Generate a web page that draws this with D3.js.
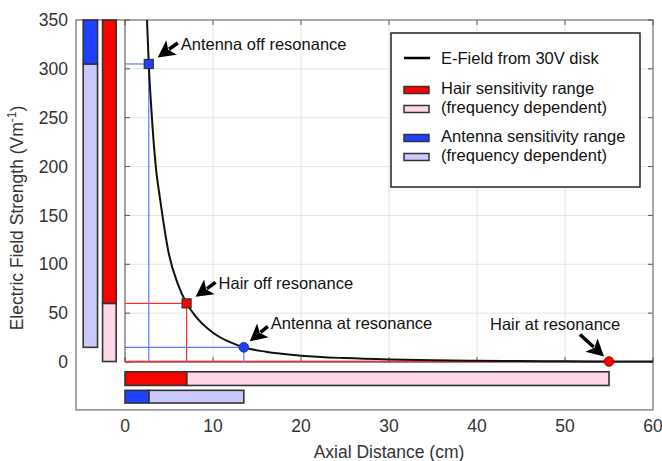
<!DOCTYPE html>
<html><head><meta charset="utf-8">
<script src="https://cdn.jsdelivr.net/npm/d3@7"></script>
<style>body{margin:0;background:#fff} text{font-family:"Liberation Sans",Arial,Helvetica,sans-serif}</style>
</head><body><svg id="c" width="662" height="461"></svg>
<script>
// ---- data ----
const xTicks = [0, 10, 20, 30, 40, 50, 60];
const yTicks = [0, 50, 100, 150, 200, 250, 300, 350];
const curveX = [2.4, 2.5, 2.7, 3, 3.5, 4, 5, 6, 7, 8, 10, 12, 13.5, 16, 20, 25, 30, 35, 40, 45, 50, 55, 60];
const curveY = [365, 350, 305, 258, 200, 166, 110, 80, 60, 47, 30, 20, 15, 10.5, 6.5, 4, 2.6, 1.8, 1.2, 0.9, 0.7, 0.5, 0.4];
const sensors = ["Hair", "Antenna"];
const resonanceDist = [55, 13.5];
const resonanceField = [0.5, 15];
const offDist = [7, 2.7];
const offField = [60, 305];
const resonanceLabels = ["Hair at resonance", "Antenna at resonance"];
const offLabels = ["Hair off resonance", "Antenna off resonance"];
const legendLabels = ["E-Field from 30V disk", "Hair sensitivity range", "(frequency dependent)", "Antenna sensitivity range", "(frequency dependent)"];
const xTitle = "Axial Distance (cm)";

// ---- style ----
const dark = ["#ff0000", "#2040ff"];
const light = ["#ffd5ea", "#c9c9fb"];
const lineCol = ["#ff2a2a", "#5a78ff"];

const svg = d3.select("#c");
const x = d3.scaleLinear().domain([0, 60]).range([125, 653]);
const y = d3.scaleLinear().domain([0, 350]).range([362, 20]);
const xMinOuter = -5.57, yMinOuter = -49;

// outer box
svg.append("rect").attr("x", x(xMinOuter)).attr("y", y(350)).attr("width", x(60) - x(xMinOuter)).attr("height", y(yMinOuter) - y(350))
  .attr("fill", "none").attr("stroke", "#8a8a8a").attr("stroke-width", 1.5);

// grid
const g = svg.append("g");
g.selectAll(".gx").data(xTicks.filter(d => d > 0 && d < 60)).join("line")
  .attr("x1", d => x(d)).attr("x2", d => x(d)).attr("y1", y(0)).attr("y2", y(350)).attr("stroke", "#e4e4e4");
g.selectAll(".gy").data(yTicks.filter(d => d > 0 && d < 350)).join("line")
  .attr("x1", x(0)).attr("x2", x(60)).attr("y1", d => y(d)).attr("y2", d => y(d)).attr("stroke", "#e4e4e4");

// ticks
const tk = 5;
g.selectAll(".t1").data(yTicks).join("line").attr("x1", x(0)).attr("x2", x(0) + tk).attr("y1", d => y(d)).attr("y2", d => y(d)).attr("stroke", "#555");
g.selectAll(".t2").data(yTicks).join("line").attr("x1", x(60)).attr("x2", x(60) - tk).attr("y1", d => y(d)).attr("y2", d => y(d)).attr("stroke", "#555");
g.selectAll(".t3").data(xTicks).join("line").attr("x1", d => x(d)).attr("x2", d => x(d)).attr("y1", y(350)).attr("y2", y(350) + tk).attr("stroke", "#555");
g.selectAll(".t4").data(xTicks).join("line").attr("x1", d => x(d)).attr("x2", d => x(d)).attr("y1", y(0)).attr("y2", y(0) - tk).attr("stroke", "#555");

// inner axis lines
svg.append("line").attr("x1", x(0)).attr("x2", x(0)).attr("y1", y(0)).attr("y2", y(350)).attr("stroke", "#444");
svg.append("line").attr("x1", x(0)).attr("x2", x(60)).attr("y1", y(0)).attr("y2", y(0)).attr("stroke", "#333");

// reference lines
sensors.forEach((s, i) => {
  [[resonanceDist[i], resonanceField[i]], [offDist[i], offField[i]]].forEach(([dx, fy]) => {
    svg.append("line").attr("x1", x(0)).attr("x2", x(dx)).attr("y1", y(fy)).attr("y2", y(fy)).attr("stroke", lineCol[i]).attr("stroke-width", i === 0 && fy < 5 ? 1.6 : 1.2);
    svg.append("line").attr("x1", x(dx)).attr("x2", x(dx)).attr("y1", y(fy)).attr("y2", y(0)).attr("stroke", lineCol[i]).attr("stroke-width", 1.2);
  });
});

// curve (clipped)
svg.append("clipPath").attr("id", "clip").append("rect").attr("x", x(0)).attr("y", y(350)).attr("width", x(60) - x(0) + 1).attr("height", y(0) - y(350) + 2);
svg.append("path").datum(curveX.map((d, i) => [d, curveY[i]]))
  .attr("clip-path", "url(#clip)")
  .attr("d", d3.line().x(d => x(d[0])).y(d => y(d[1])).curve(d3.curveMonotoneX))
  .attr("fill", "none").attr("stroke", "#111").attr("stroke-width", 2);

// sensitivity bars
const vBarX = [[-2.55, -1.0], [-4.75, -3.12]];
const hBarY = [[-10, -24], [-29, -42]];
const barStroke = "#333";
sensors.forEach((s, i) => {
  const [x0, x1] = vBarX[i];
  svg.append("rect").attr("x", x(x0)).attr("width", x(x1) - x(x0)).attr("y", y(offField[i])).attr("height", y(resonanceField[i]) - y(offField[i]))
    .attr("fill", light[i]).attr("stroke", barStroke).attr("stroke-width", 1.6);
  svg.append("rect").attr("x", x(x0)).attr("width", x(x1) - x(x0)).attr("y", y(350)).attr("height", y(offField[i]) - y(350))
    .attr("fill", dark[i]).attr("stroke", barStroke).attr("stroke-width", 1.6);
  const [ya, yb] = hBarY[i];
  svg.append("rect").attr("x", x(offDist[i])).attr("width", x(resonanceDist[i]) - x(offDist[i])).attr("y", y(ya)).attr("height", y(yb) - y(ya))
    .attr("fill", light[i]).attr("stroke", barStroke).attr("stroke-width", 1.6);
  svg.append("rect").attr("x", x(0)).attr("width", x(offDist[i]) - x(0)).attr("y", y(ya)).attr("height", y(yb) - y(ya))
    .attr("fill", dark[i]).attr("stroke", barStroke).attr("stroke-width", 1.6);
});

// markers
sensors.forEach((s, i) => {
  svg.append("circle").attr("cx", x(resonanceDist[i])).attr("cy", y(resonanceField[i])).attr("r", 4.8)
    .attr("fill", dark[i]).attr("stroke", i === 0 ? "#a00" : "#203080").attr("stroke-width", 1);
  svg.append("rect").attr("x", x(offDist[i]) - 4.5).attr("y", y(offField[i]) - 4.5).attr("width", 9).attr("height", 9)
    .attr("fill", dark[i]).attr("stroke", "#333").attr("stroke-width", 1.2);
});

// arrows + annotations
function arrow(tx, ty, sx, sy) {
  const ang = Math.atan2(ty - sy, tx - sx);
  const L = 17, W = 9;
  const bx = tx - L * Math.cos(ang), by = ty - L * Math.sin(ang);
  svg.append("line").attr("x1", sx).attr("y1", sy).attr("x2", bx + 3 * Math.cos(ang)).attr("y2", by + 3 * Math.sin(ang)).attr("stroke", "#000").attr("stroke-width", 3.5);
  const px = -Math.sin(ang), py = Math.cos(ang);
  svg.append("path").attr("d", `M${tx},${ty}L${bx + px * W},${by + py * W}L${bx + 4 * Math.cos(ang)},${by + 4 * Math.sin(ang)}L${bx - px * W},${by - py * W}Z`).attr("fill", "#000");
}
const fs = 16.5;
sensors.forEach((s, i) => {
  const px = x(offDist[i]), py = y(offField[i]);
  arrow(px + 9, py - 6.5, px + 29, py - 21);
  svg.append("text").attr("x", px + 32).attr("y", py - 20).attr("dy", "0.35em").attr("font-size", fs).attr("fill", "#111").text(offLabels[i]);
});
{
  const px = x(resonanceDist[1]), py = y(resonanceField[1]);
  arrow(px + 6, py - 6, px + 24, py - 21);
  svg.append("text").attr("x", px + 27).attr("y", py - 24).attr("dy", "0.35em").attr("font-size", fs).attr("fill", "#111").text(resonanceLabels[1]);
}
{
  const px = x(resonanceDist[0]), py = y(resonanceField[0]);
  arrow(px - 5, py - 5, px - 29, py - 27);
  svg.append("text").attr("x", px - 119).attr("y", py - 37).attr("dy", "0.35em").attr("font-size", fs).attr("fill", "#111").text(resonanceLabels[0]);
}

// tick labels
svg.selectAll(".xl").data(xTicks).join("text").attr("x", d => x(d)).attr("y", 426).attr("dy", "0.35em").attr("text-anchor", "middle")
  .attr("font-size", 17.5).attr("fill", "#333").text(d => d);
svg.selectAll(".yl").data(yTicks).join("text").attr("x", 68).attr("y", d => y(d)).attr("dy", "0.35em").attr("text-anchor", "end")
  .attr("font-size", 17.5).attr("fill", "#333").text(d => d);

// axis titles
svg.append("text").attr("x", x(30)).attr("y", 452).attr("dy", "0.35em").attr("text-anchor", "middle").attr("font-size", 17.5).attr("fill", "#333").text(xTitle);
const yt = svg.append("text").attr("transform", "translate(23,218) rotate(-90)").attr("text-anchor", "middle").attr("font-size", 17.5).attr("fill", "#333");
yt.append("tspan").text("Electric Field Strength (Vm");
yt.append("tspan").attr("font-size", 12).attr("dy", -7).text("-1");
yt.append("tspan").attr("dy", 7).text(")");

// legend
const lg = svg.append("g");
lg.append("rect").attr("x", 391).attr("y", 33).attr("width", 249).attr("height", 154).attr("fill", "#fff").attr("stroke", "#222").attr("stroke-width", 1.5);
lg.append("line").attr("x1", 404).attr("x2", 430).attr("y1", 58).attr("y2", 58).attr("stroke", "#000").attr("stroke-width", 2.5);
const ly = [58, 88, 107, 136, 155];
const sw = [null, dark[0], light[0], dark[1], light[1]];
legendLabels.forEach((t, i) => {
  if (sw[i]) lg.append("rect").attr("x", 404).attr("y", ly[i] - 1.5).attr("width", 25).attr("height", 7).attr("fill", sw[i]).attr("stroke", "#333").attr("stroke-width", 1.5);
  lg.append("text").attr("x", 441).attr("y", ly[i]).attr("dy", "0.35em").attr("font-size", fs).attr("fill", "#111").text(t);
});
</script></body></html>
